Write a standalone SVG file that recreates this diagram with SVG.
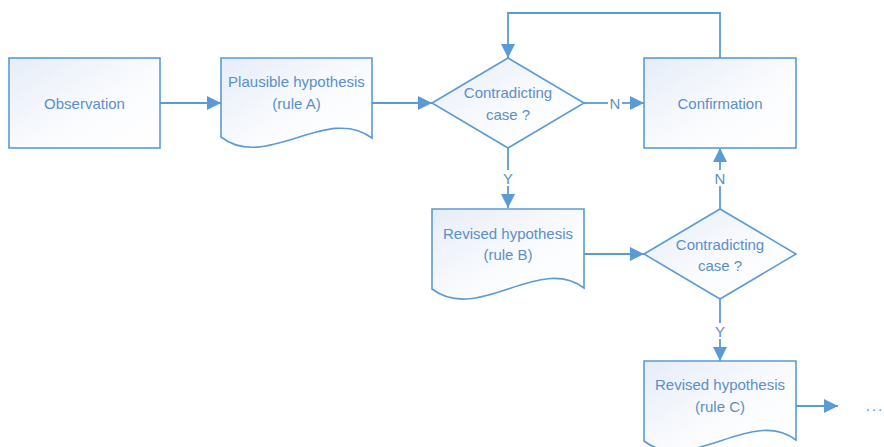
<svg xmlns="http://www.w3.org/2000/svg" width="884" height="447" viewBox="0 0 884 447">
<defs>
<linearGradient id="g" x1="0" y1="0" x2="1" y2="1">
<stop offset="0" stop-color="#e6edf8"/>
<stop offset="0.6" stop-color="#fbfcfe"/>
<stop offset="1" stop-color="#ffffff"/>
</linearGradient>
<marker id="ah" viewBox="0 0 14 14" refX="14" refY="7" markerWidth="14" markerHeight="14" markerUnits="userSpaceOnUse" orient="auto">
<path d="M0,0 L14,7 L0,14 Z" fill="#5b9bd5"/>
</marker>
<style>
.s{fill:url(#g);stroke:#5b9bd5;stroke-width:1.6}
.t{font-family:"Liberation Sans",Arial,sans-serif;font-size:15px;fill:#5b8fc9;text-anchor:middle;dominant-baseline:central}
.c{fill:none;stroke:#5b9bd5;stroke-width:1.8}
</style>
</defs>
<rect width="884" height="447" fill="#ffffff"/>
<g id="connectors">
<path class="c" d="M160,103 L221,103" marker-end="url(#ah)"/>
<path class="c" d="M372,103 L432,103" marker-end="url(#ah)"/>
<path class="c" d="M584,103 L608,103"/>
<path class="c" d="M622,103 L644,103" marker-end="url(#ah)"/>
<path class="c" d="M720,58 L720,13 L508,13 L508,58" marker-end="url(#ah)"/>
<path class="c" d="M508,148 L508,170"/>
<path class="c" d="M508,186 L508,208" marker-end="url(#ah)"/>
<path class="c" d="M584,254 L644,254" marker-end="url(#ah)"/>
<path class="c" d="M720,209 L720,186"/>
<path class="c" d="M720,170 L720,148" marker-end="url(#ah)"/>
<path class="c" d="M720,299 L720,323"/>
<path class="c" d="M720,339 L720,361" marker-end="url(#ah)"/>
<path class="c" d="M796,406 L838,406" marker-end="url(#ah)"/>
<text class="t" x="615" y="103">N</text>
<text class="t" x="508" y="178">Y</text>
<text class="t" x="720" y="178">N</text>
<text class="t" x="720" y="331">Y</text>
<text class="t" x="875" y="405" style="letter-spacing:2px">...</text>
</g>
<g id="observation">
<rect class="s" x="9" y="58" width="151" height="90"/>
<text class="t" x="84.5" y="103">Observation</text>
</g>
<g id="plausible">
<path class="s" d="M221,58 L372,58 L372,138 C327,104 266,172 221,137 Z"/>
<text class="t" x="296.5" y="81">Plausible hypothesis</text>
<text class="t" x="296.5" y="103">(rule A)</text>
</g>
<g id="decision1">
<path class="s" d="M432,103 L508,58 L584,103 L508,148 Z"/>
<text class="t" x="508" y="92">Contradicting</text>
<text class="t" x="508" y="114">case ?</text>
</g>
<g id="confirmation">
<rect class="s" x="644" y="58" width="152" height="90"/>
<text class="t" x="720" y="103">Confirmation</text>
</g>
<g id="revisedB">
<path class="s" d="M432,209 L584,209 L584,288 C539,254 478,324 432,289 Z"/>
<text class="t" x="508" y="233">Revised hypothesis</text>
<text class="t" x="508" y="254">(rule B)</text>
</g>
<g id="decision2">
<path class="s" d="M644,254 L720,209 L796,254 L720,299 Z"/>
<text class="t" x="720" y="244">Contradicting</text>
<text class="t" x="720" y="265">case ?</text>
</g>
<g id="revisedC">
<path class="s" d="M644,361 L796,361 L796,440 C751,406 690,476 644,441 Z"/>
<text class="t" x="720" y="384">Revised hypothesis</text>
<text class="t" x="720" y="406">(rule C)</text>
</g>
</svg>
